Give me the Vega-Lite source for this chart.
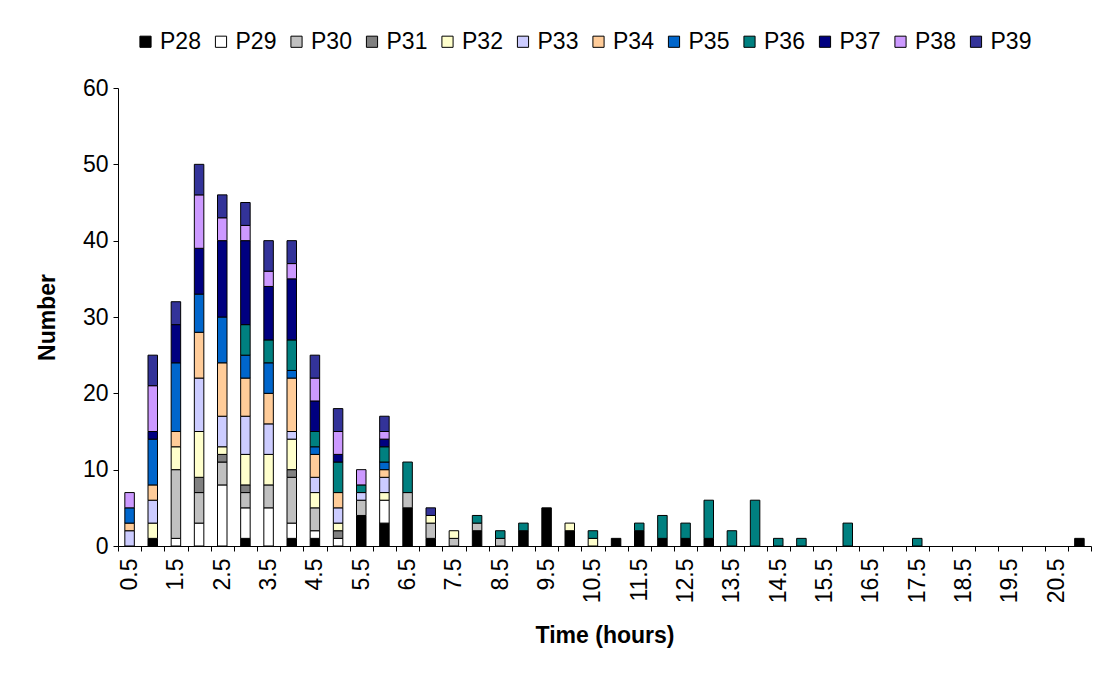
{
  "$schema": "https://vega.github.io/schema/vega-lite/v6.json",
  "width": 973,
  "height": 458,
  "autosize": {"type": "none"},
  "padding": {"left": 118, "top": 88, "right": 5, "bottom": 129},
  "background": "white",
  "config": {
    "font": "Liberation Sans",
    "view": {"stroke": null},
    "axis": {
      "grid": false,
      "domainColor": "black",
      "tickColor": "black",
      "labelColor": "black",
      "titleColor": "black",
      "labelFont": "Liberation Sans",
      "titleFont": "Liberation Sans",
      "labelFontSize": 23,
      "titleFontSize": 23,
      "titleFontWeight": "bold",
      "tickSize": 5
    }
  },
  "data": {
    "values": [
      {"t": 0.5, "s": "P33", "n": 2}, {"t": 0.5, "s": "P34", "n": 1}, {"t": 0.5, "s": "P35", "n": 2}, {"t": 0.5, "s": "P38", "n": 2},
      {"t": 1, "s": "P28", "n": 1}, {"t": 1, "s": "P32", "n": 2}, {"t": 1, "s": "P33", "n": 3}, {"t": 1, "s": "P34", "n": 2}, {"t": 1, "s": "P35", "n": 6}, {"t": 1, "s": "P37", "n": 1}, {"t": 1, "s": "P38", "n": 6}, {"t": 1, "s": "P39", "n": 4},
      {"t": 1.5, "s": "P29", "n": 1}, {"t": 1.5, "s": "P30", "n": 9}, {"t": 1.5, "s": "P32", "n": 3}, {"t": 1.5, "s": "P34", "n": 2}, {"t": 1.5, "s": "P35", "n": 9}, {"t": 1.5, "s": "P37", "n": 5}, {"t": 1.5, "s": "P39", "n": 3},
      {"t": 2, "s": "P29", "n": 3}, {"t": 2, "s": "P30", "n": 4}, {"t": 2, "s": "P31", "n": 2}, {"t": 2, "s": "P32", "n": 6}, {"t": 2, "s": "P33", "n": 7}, {"t": 2, "s": "P34", "n": 6}, {"t": 2, "s": "P35", "n": 5}, {"t": 2, "s": "P37", "n": 6}, {"t": 2, "s": "P38", "n": 7}, {"t": 2, "s": "P39", "n": 4},
      {"t": 2.5, "s": "P29", "n": 8}, {"t": 2.5, "s": "P30", "n": 3}, {"t": 2.5, "s": "P31", "n": 1}, {"t": 2.5, "s": "P32", "n": 1}, {"t": 2.5, "s": "P33", "n": 4}, {"t": 2.5, "s": "P34", "n": 7}, {"t": 2.5, "s": "P35", "n": 6}, {"t": 2.5, "s": "P37", "n": 10}, {"t": 2.5, "s": "P38", "n": 3}, {"t": 2.5, "s": "P39", "n": 3},
      {"t": 3, "s": "P28", "n": 1}, {"t": 3, "s": "P29", "n": 4}, {"t": 3, "s": "P30", "n": 2}, {"t": 3, "s": "P31", "n": 1}, {"t": 3, "s": "P32", "n": 4}, {"t": 3, "s": "P33", "n": 5}, {"t": 3, "s": "P34", "n": 5}, {"t": 3, "s": "P35", "n": 3}, {"t": 3, "s": "P36", "n": 4}, {"t": 3, "s": "P37", "n": 11}, {"t": 3, "s": "P38", "n": 2}, {"t": 3, "s": "P39", "n": 3},
      {"t": 3.5, "s": "P29", "n": 5}, {"t": 3.5, "s": "P30", "n": 3}, {"t": 3.5, "s": "P32", "n": 4}, {"t": 3.5, "s": "P33", "n": 4}, {"t": 3.5, "s": "P34", "n": 4}, {"t": 3.5, "s": "P35", "n": 4}, {"t": 3.5, "s": "P36", "n": 3}, {"t": 3.5, "s": "P37", "n": 7}, {"t": 3.5, "s": "P38", "n": 2}, {"t": 3.5, "s": "P39", "n": 4},
      {"t": 4, "s": "P28", "n": 1}, {"t": 4, "s": "P29", "n": 2}, {"t": 4, "s": "P30", "n": 6}, {"t": 4, "s": "P31", "n": 1}, {"t": 4, "s": "P32", "n": 4}, {"t": 4, "s": "P33", "n": 1}, {"t": 4, "s": "P34", "n": 7}, {"t": 4, "s": "P35", "n": 1}, {"t": 4, "s": "P36", "n": 4}, {"t": 4, "s": "P37", "n": 8}, {"t": 4, "s": "P38", "n": 2}, {"t": 4, "s": "P39", "n": 3},
      {"t": 4.5, "s": "P28", "n": 1}, {"t": 4.5, "s": "P29", "n": 1}, {"t": 4.5, "s": "P30", "n": 3}, {"t": 4.5, "s": "P32", "n": 2}, {"t": 4.5, "s": "P33", "n": 2}, {"t": 4.5, "s": "P34", "n": 3}, {"t": 4.5, "s": "P35", "n": 1}, {"t": 4.5, "s": "P36", "n": 2}, {"t": 4.5, "s": "P37", "n": 4}, {"t": 4.5, "s": "P38", "n": 3}, {"t": 4.5, "s": "P39", "n": 3},
      {"t": 5, "s": "P29", "n": 1}, {"t": 5, "s": "P31", "n": 1}, {"t": 5, "s": "P32", "n": 1}, {"t": 5, "s": "P33", "n": 2}, {"t": 5, "s": "P34", "n": 2}, {"t": 5, "s": "P36", "n": 4}, {"t": 5, "s": "P37", "n": 1}, {"t": 5, "s": "P38", "n": 3}, {"t": 5, "s": "P39", "n": 3},
      {"t": 5.5, "s": "P28", "n": 4}, {"t": 5.5, "s": "P30", "n": 2}, {"t": 5.5, "s": "P33", "n": 1}, {"t": 5.5, "s": "P36", "n": 1}, {"t": 5.5, "s": "P38", "n": 2},
      {"t": 6, "s": "P28", "n": 3}, {"t": 6, "s": "P29", "n": 3}, {"t": 6, "s": "P32", "n": 1}, {"t": 6, "s": "P33", "n": 2}, {"t": 6, "s": "P34", "n": 1}, {"t": 6, "s": "P35", "n": 1}, {"t": 6, "s": "P36", "n": 2}, {"t": 6, "s": "P37", "n": 1}, {"t": 6, "s": "P38", "n": 1}, {"t": 6, "s": "P39", "n": 2},
      {"t": 6.5, "s": "P28", "n": 5}, {"t": 6.5, "s": "P30", "n": 2}, {"t": 6.5, "s": "P36", "n": 4},
      {"t": 7, "s": "P28", "n": 1}, {"t": 7, "s": "P30", "n": 2}, {"t": 7, "s": "P32", "n": 1}, {"t": 7, "s": "P39", "n": 1},
      {"t": 7.5, "s": "P30", "n": 1}, {"t": 7.5, "s": "P32", "n": 1},
      {"t": 8, "s": "P28", "n": 2}, {"t": 8, "s": "P30", "n": 1}, {"t": 8, "s": "P36", "n": 1},
      {"t": 8.5, "s": "P30", "n": 1}, {"t": 8.5, "s": "P36", "n": 1},
      {"t": 9, "s": "P28", "n": 2}, {"t": 9, "s": "P36", "n": 1},
      {"t": 9.5, "s": "P28", "n": 5},
      {"t": 10, "s": "P28", "n": 2}, {"t": 10, "s": "P32", "n": 1},
      {"t": 10.5, "s": "P32", "n": 1}, {"t": 10.5, "s": "P36", "n": 1},
      {"t": 11, "s": "P28", "n": 1},
      {"t": 11.5, "s": "P28", "n": 2}, {"t": 11.5, "s": "P36", "n": 1},
      {"t": 12, "s": "P28", "n": 1}, {"t": 12, "s": "P36", "n": 3},
      {"t": 12.5, "s": "P28", "n": 1}, {"t": 12.5, "s": "P36", "n": 2},
      {"t": 13, "s": "P28", "n": 1}, {"t": 13, "s": "P36", "n": 5},
      {"t": 13.5, "s": "P36", "n": 2},
      {"t": 14, "s": "P36", "n": 6},
      {"t": 14.5, "s": "P36", "n": 1},
      {"t": 15, "s": "P36", "n": 1},
      {"t": 16, "s": "P36", "n": 3},
      {"t": 17.5, "s": "P36", "n": 1},
      {"t": 21, "s": "P28", "n": 1}
    ]
  },
  "mark": {"type": "bar", "stroke": "black", "strokeWidth": 1, "width": 9.5},
  "encoding": {
    "x": {
      "field": "t",
      "type": "ordinal",
      "scale": {
        "domain": [0.5, 1, 1.5, 2, 2.5, 3, 3.5, 4, 4.5, 5, 5.5, 6, 6.5, 7, 7.5, 8, 8.5, 9, 9.5, 10, 10.5, 11, 11.5, 12, 12.5, 13, 13.5, 14, 14.5, 15, 15.5, 16, 16.5, 17, 17.5, 18, 18.5, 19, 19.5, 20, 20.5, 21],
        "paddingInner": 0,
        "paddingOuter": 0
      },
      "axis": {
        "title": "Time (hours)",
        "labelAngle": -90,
        "labelAlign": "right",
        "labelBaseline": "middle",
        "labelPadding": 7,
        "labelExpr": "datum.value % 1 === 0.5 ? datum.label : ''",
        "tickBand": "extent",
        "titlePadding": 22
      }
    },
    "y": {
      "field": "n",
      "type": "quantitative",
      "stack": "zero",
      "scale": {"domain": [0, 60]},
      "axis": {
        "title": "Number",
        "values": [0, 10, 20, 30, 40, 50, 60],
        "labelPadding": 5,
        "titlePadding": 23
      }
    },
    "color": {
      "field": "s",
      "type": "nominal",
      "scale": {
        "domain": ["P28", "P29", "P30", "P31", "P32", "P33", "P34", "P35", "P36", "P37", "P38", "P39"],
        "range": ["#000000", "#FFFFFF", "#C0C0C0", "#808080", "#FFFFCC", "#CCCCFF", "#FFCC99", "#0066CC", "#008080", "#000080", "#CC99FF", "#333399"]
      },
      "legend": {
        "title": null,
        "orient": "none",
        "direction": "horizontal",
        "legendX": 16,
        "legendY": -58,
        "symbolType": "square",
        "symbolSize": 125,
        "symbolStrokeColor": "black",
        "symbolStrokeWidth": 1,
        "symbolOpacity": 1,
        "labelFont": "Liberation Sans",
        "labelFontSize": 23,
        "labelColor": "black",
        "labelOffset": 3,
        "columnPadding": 8.5
      }
    },
    "order": {"field": "s", "sort": "ascending"}
  }
}
